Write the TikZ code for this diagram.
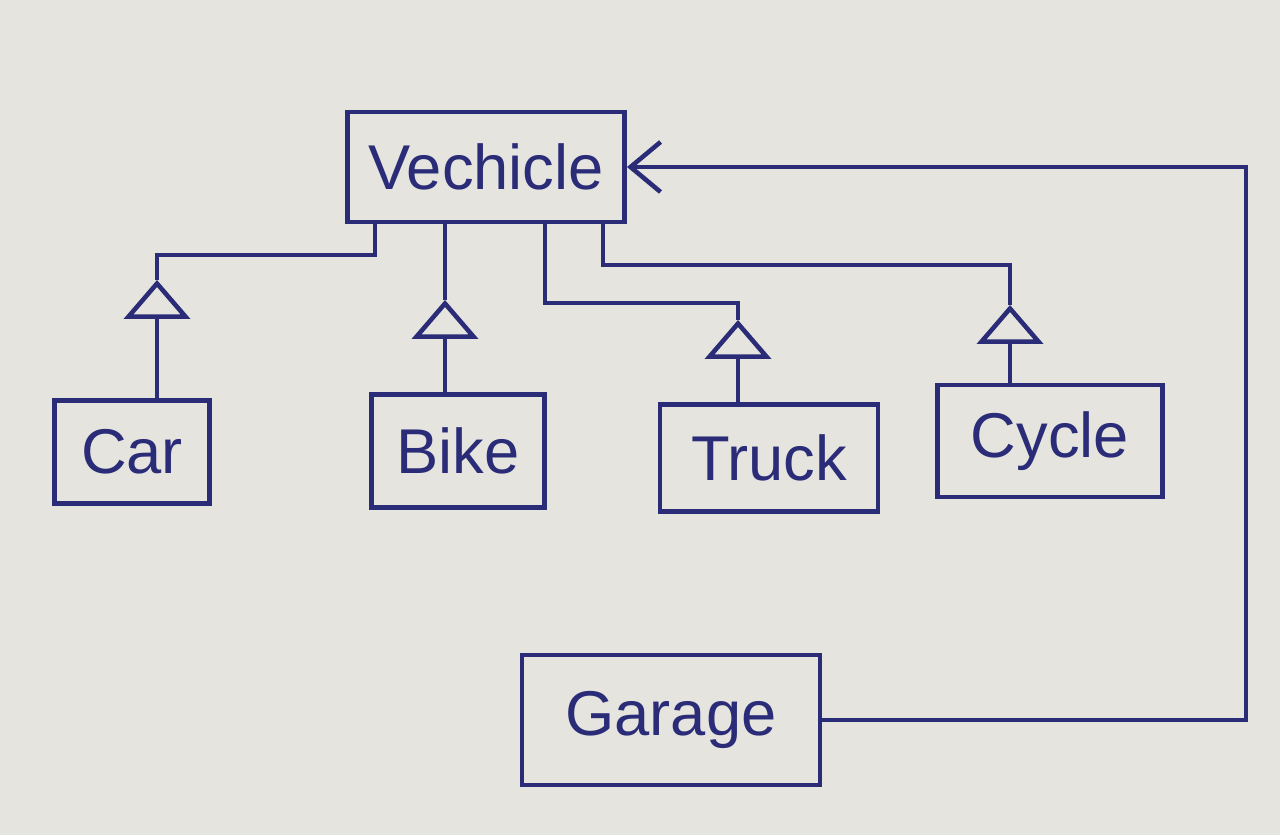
\documentclass[tikz,border=0pt]{standalone}
\usepackage{fontspec}
\setsansfont{Liberation Sans}
\usetikzlibrary{arrows.meta,positioning,calc}
\definecolor{inkblue}{HTML}{2A2C78}
\definecolor{paper}{HTML}{E5E4DE}
\tikzset{
  font=\sffamily,
  cls/.style={draw=inkblue,line width=1.4pt,text=inkblue,inner sep=0pt,
              font=\sffamily\fontsize{18}{20}\selectfont},
  link/.style={draw=inkblue,line width=1.3pt},
  isa/.style={link,-{Triangle[open,length=3.9mm,width=6.6mm,line width=1.3pt]}},
  assoc/.style={link,-{Straight Barb[length=3mm,width=5mm,line width=1.3pt]}},
}
\begin{document}
\begin{tikzpicture}
  \fill[paper] (0,0) rectangle (12.8,8.35);
  \useasboundingbox (0,0) rectangle (12.8,8.35);

  % classes
  \node[cls,minimum width=27.7mm,minimum height=11mm] (veh) at (4.86,6.68) {Vechicle};
  \node[cls,minimum width=15.5mm,minimum height=10.3mm] (car) at (1.32,3.83) {Car};
  \node[cls,minimum width=17.3mm,minimum height=11.3mm] (bike) at (4.58,3.84) {Bike};
  \node[cls,minimum width=21.8mm,minimum height=10.7mm] (truck) at (7.69,3.77) {Truck};
  \node[cls,minimum width=22.5mm,minimum height=11.2mm] (cycle) at (10.50,3.94) {Cycle};
  \node[cls,minimum width=29.8mm,minimum height=13mm] (garage) at (6.71,1.15) {Garage};

  % triangle tips and elbows of the generalisations
  \coordinate (carTip) at (1.57,5.55);
  \coordinate (carKnee) at (3.75,5.80);
  \coordinate (bikeTip) at (4.45,5.35);
  \coordinate (truckTip) at (7.38,5.15);
  \coordinate (truckKnee) at (5.45,5.32);
  \coordinate (cycleTip) at (10.10,5.30);
  \coordinate (cycleKnee) at (6.03,5.70);

  % inheritance
  \draw[isa] (car.north -| carTip) -- (carTip);
  \draw[link] (carTip) |- (carKnee) -- (carKnee |- veh.south);
  \draw[isa] (bike.north -| bikeTip) -- (bikeTip);
  \draw[link] (bikeTip) -- (bikeTip |- veh.south);
  \draw[isa] (truck.north -| truckTip) -- (truckTip);
  \draw[link] (truckTip) |- (truckKnee) -- (truckKnee |- veh.south);
  \draw[isa] (cycle.north -| cycleTip) -- (cycleTip);
  \draw[link] (cycleTip) |- (cycleKnee) -- (cycleKnee |- veh.south);

  % garage holds vehicles
  \coordinate (gBend) at (12.46,1.15);
  \draw[assoc] (garage.east) -- (gBend) |- (veh.east);
\end{tikzpicture}
\end{document}
